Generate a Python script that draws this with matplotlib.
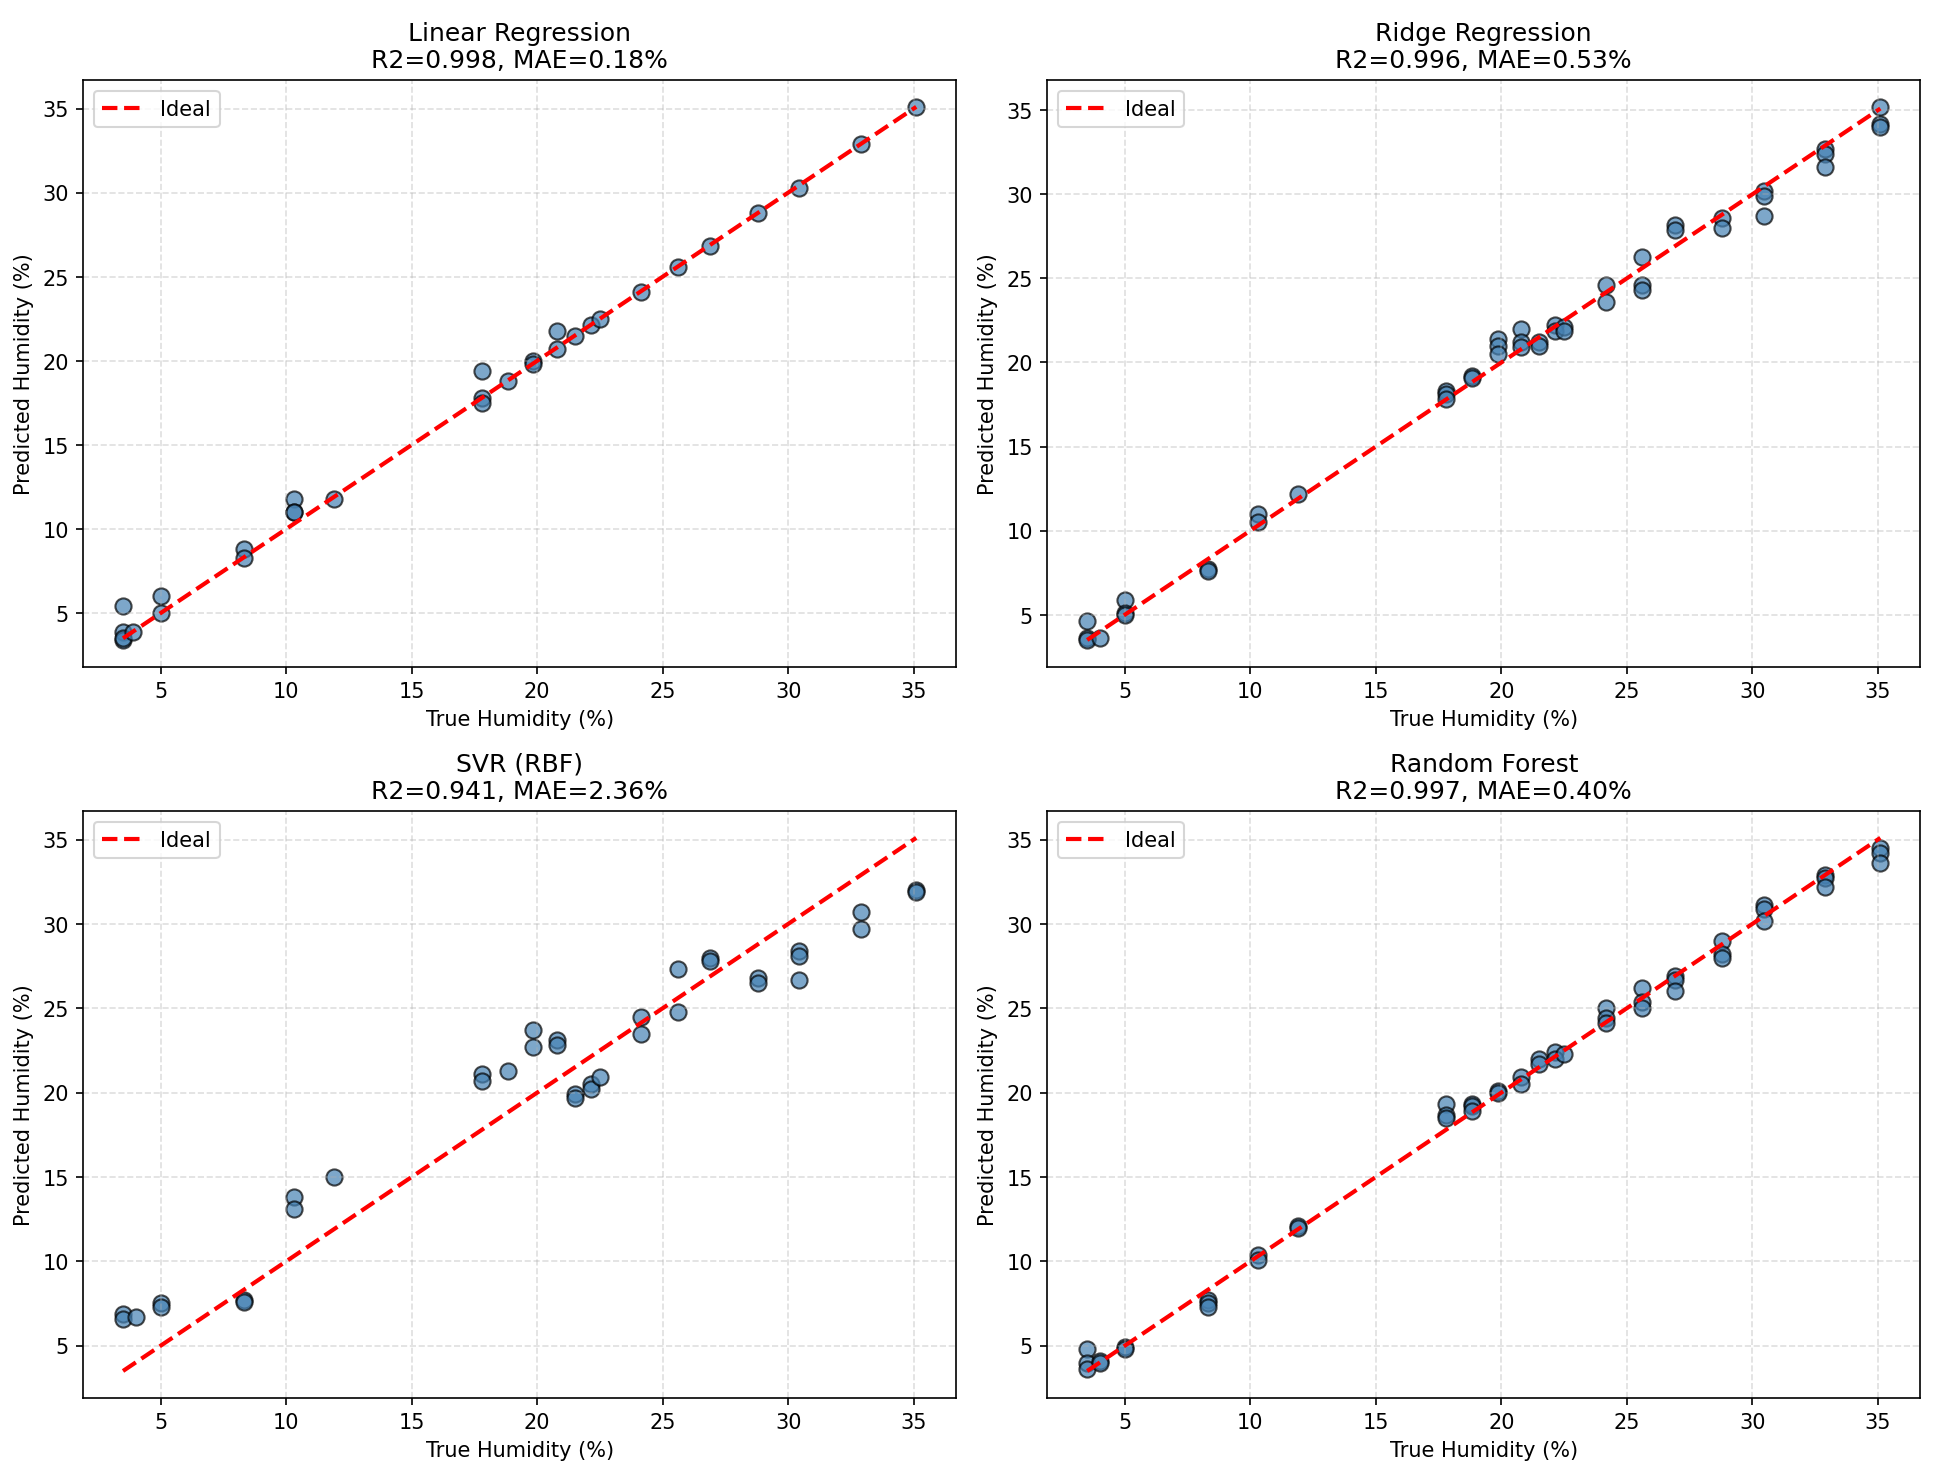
import matplotlib
matplotlib.use("Agg")
import matplotlib.pyplot as plt
import numpy as np

# true / predicted humidity values
lin_true = [3.5, 3.5, 3.5, 3.5, 3.9, 5.0, 5.0, 8.3, 8.3, 10.3, 10.3, 10.3, 11.9,
            17.8, 17.8, 17.8, 18.85, 19.85, 19.85, 20.8, 20.8, 21.5, 22.15, 22.5,
            24.15, 25.6, 26.9, 28.8, 30.45, 32.9, 35.1]
lin_pred = [5.4, 3.9, 3.4, 3.5, 3.9, 6.0, 5.0, 8.8, 8.3, 11.8, 11.0, 11.0, 11.8,
            19.4, 17.8, 17.5, 18.8, 20.0, 19.8, 21.8, 20.7, 21.5, 22.1, 22.5,
            24.1, 25.6, 26.8, 28.8, 30.3, 32.9, 35.1]

ridge_true = [3.5, 3.5, 3.5, 4.0, 5.0, 5.0, 5.0, 8.3, 8.3, 10.3, 10.3, 11.9,
              17.8, 17.8, 17.8, 18.85, 18.85, 19.85, 19.85, 19.85, 20.8, 20.8, 20.8,
              21.5, 21.5, 22.15, 22.15, 22.5, 22.5, 24.15, 24.15, 25.6, 25.6, 25.6,
              26.9, 26.9, 28.8, 28.8, 30.45, 30.45, 30.45, 32.9, 32.9, 32.9,
              35.1, 35.1, 35.1]
ridge_pred = [4.6, 3.6, 3.5, 3.6, 5.9, 5.1, 5.0, 7.7, 7.6, 11.0, 10.5, 12.2,
              18.3, 18.1, 17.8, 19.2, 19.1, 21.4, 21.0, 20.5, 22.0, 21.2, 20.9,
              21.2, 21.0, 22.2, 21.9, 22.1, 21.9, 24.6, 23.6, 26.3, 24.6, 24.3,
              28.2, 27.9, 28.6, 28.0, 30.2, 29.9, 28.7, 32.7, 32.4, 31.6,
              35.2, 34.2, 34.0]

svr_true = [3.5, 3.5, 4.0, 5.0, 5.0, 8.3, 8.3, 10.3, 10.3, 11.9,
            17.8, 17.8, 18.85, 19.85, 19.85, 20.8, 20.8, 21.5, 21.5, 22.15, 22.15,
            22.5, 24.15, 24.15, 25.6, 25.6, 26.9, 26.9, 28.8, 28.8, 30.45, 30.45,
            30.45, 32.9, 32.9, 35.1, 35.1]
svr_pred = [6.9, 6.6, 6.7, 7.5, 7.3, 7.7, 7.6, 13.8, 13.1, 15.0,
            21.1, 20.7, 21.3, 23.7, 22.7, 23.1, 22.8, 19.9, 19.7, 20.5, 20.2,
            20.9, 24.5, 23.5, 27.3, 24.8, 28.0, 27.8, 26.8, 26.5, 28.4, 28.1,
            26.7, 30.7, 29.7, 32.0, 31.9]

rf_true = [3.5, 3.5, 3.5, 4.0, 4.0, 5.0, 5.0, 8.3, 8.3, 8.3, 10.3, 10.3, 11.9, 11.9,
           17.8, 17.8, 17.8, 18.85, 18.85, 18.85, 19.85, 19.85, 20.8, 20.8,
           21.5, 21.5, 22.15, 22.15, 22.5, 24.15, 24.15, 24.15, 25.6, 25.6, 25.6,
           26.9, 26.9, 26.9, 28.8, 28.8, 28.8, 30.45, 30.45, 30.45, 32.9, 32.9, 32.9,
           35.1, 35.1, 35.1]
rf_pred = [4.8, 4.0, 3.6, 4.1, 4.0, 4.9, 4.8, 7.7, 7.5, 7.3, 10.4, 10.1, 12.1, 12.0,
           19.3, 18.7, 18.5, 19.3, 19.2, 18.9, 20.1, 20.0, 20.9, 20.5,
           22.0, 21.7, 22.4, 22.0, 22.3, 25.0, 24.4, 24.1, 26.2, 25.4, 25.0,
           26.9, 26.7, 26.0, 29.0, 28.2, 28.0, 31.1, 30.9, 30.2, 32.9, 32.7, 32.2,
           34.5, 34.2, 33.6]

titles = ["Linear Regression\nR2=0.998, MAE=0.18%",
          "Ridge Regression\nR2=0.996, MAE=0.53%",
          "SVR (RBF)\nR2=0.941, MAE=2.36%",
          "Random Forest\nR2=0.997, MAE=0.40%"]


def main():
    panels = [(lin_true, lin_pred), (ridge_true, ridge_pred),
              (svr_true, svr_pred), (rf_true, rf_pred)]
    fig, axes = plt.subplots(2, 2, figsize=(12.893, 9.852), dpi=150)
    for ax, (yt, yp), title in zip(axes.ravel(), panels, titles):
        yt = np.array(yt)
        yp = np.array(yp)
        ax.scatter(yt, yp, s=60, alpha=0.7, color="steelblue", edgecolors="k")
        lo, hi = yt.min(), yt.max()
        ax.plot([lo, hi], [lo, hi], "r--", lw=2, label="Ideal")
        ax.set_title(title, fontsize=12)
        ax.set_xlabel("True Humidity (%)")
        ax.set_ylabel("Predicted Humidity (%)")
        ax.grid(True, linestyle="--", alpha=0.4)
        ax.legend(loc="upper left")
    fig.subplots_adjust(left=0.0431, right=0.9928, top=0.9452, bottom=0.0537,
                        wspace=0.105, hspace=0.2465)
    plt.savefig("out.png", dpi=150)
    plt.close()


if __name__ == "__main__":
    main()
